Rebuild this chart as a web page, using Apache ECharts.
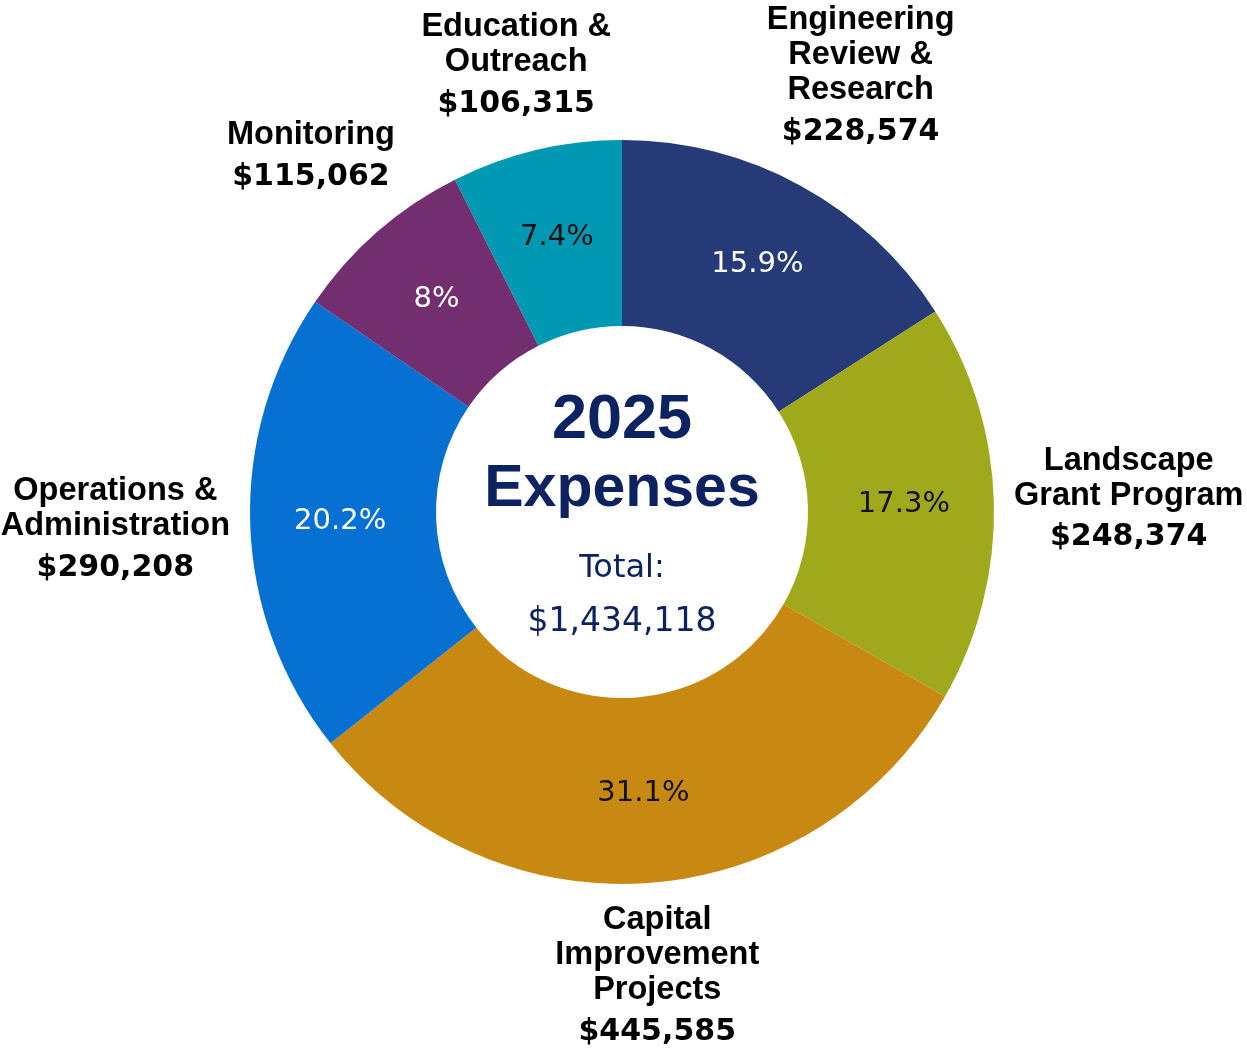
<!DOCTYPE html>
<html>
<head>
<meta charset="utf-8">
<script src="https://cdn.jsdelivr.net/npm/echarts@6/dist/echarts.min.js"></script>
<style>
html,body{margin:0;padding:0;background:#fff;}
#chart{width:1247px;height:1052px;}
</style>
</head>
<body>
<div id="chart"></div>
<script>
// ---- data ----
const categories = [
  'Engineering\nReview &\nResearch',
  'Landscape\nGrant Program',
  'Capital\nImprovement\nProjects',
  'Operations &\nAdministration',
  'Monitoring',
  'Education &\nOutreach'
];
const values = [228574, 248374, 445585, 290208, 115062, 106315];
const sliceColors = ['#253A77', '#A0A81C', '#C88913', '#0670D3', '#722E6E', '#0098B3'];
const pctLabelColors = ['#ffffff', '#111111', '#111111', '#ffffff', '#ffffff', '#111111'];
const centerTitle = ['2025', 'Expenses'];
const centerSub = ['Total:', '$1,434,118'];

// ---- layout ----
const CX = 622, CY = 512, R_OUT = 372, R_IN = 186, GAP = 20;
const total = values.reduce((a, b) => a + b, 0);
const midAngles = [];
{
  let acc = 0;
  values.forEach(v => { midAngles.push((acc + v / 2) / total * 2 * Math.PI); acc += v; });
}
function fmtMoney(v) { return '$' + v.toLocaleString('en-US'); }
function fmtPct(v) { return parseFloat((v / total * 100).toFixed(1)) + '%'; }

function boxDist(bx, by, hw, hh) {
  const dx = Math.max(Math.abs(bx) - hw, 0);
  const dy = Math.max(Math.abs(by) - hh, 0);
  return Math.sqrt(dx * dx + dy * dy);
}

const data = categories.map((n, i) => ({
  name: n, value: values[i],
  itemStyle: { color: sliceColors[i] },
  label: { color: pctLabelColors[i] }
}));
const outerData = categories.map((n, i) => ({ name: n, value: values[i] }));

const NAVY = '#0D2361';
const chart = echarts.init(document.getElementById('chart'), null, { renderer: 'canvas' });
chart.setOption({
  backgroundColor: '#ffffff',
  animation: false,
  series: [
    {
      type: 'pie',
      center: [CX, CY],
      radius: [R_IN, R_OUT],
      startAngle: 90,
      clockwise: true,
      avoidLabelOverlap: false,
      silent: true,
      itemStyle: { borderWidth: 0 },
      label: {
        show: true,
        position: 'inside',
        fontFamily: 'DejaVu Sans',
        fontSize: 29,
        formatter: p => fmtPct(p.value)
      },
      labelLine: { show: false },
      data: data
    },
    {
      type: 'pie',
      center: [CX, CY],
      radius: [R_IN, R_OUT],
      startAngle: 90,
      clockwise: true,
      avoidLabelOverlap: false,
      silent: true,
      z: 1,
      itemStyle: { color: 'rgba(0,0,0,0)', borderWidth: 0 },
      label: {
        show: true,
        position: 'outside',
        formatter: p => '{n|' + p.name.split('\n').join('}\n{n|') + '}\n{v|' + fmtMoney(p.value) + '}',
        rich: {
          n: { fontFamily: 'Liberation Sans', fontWeight: 'bold', fontSize: 32.5, lineHeight: 35, color: '#000', align: 'center' },
          v: { fontFamily: 'DejaVu Sans', fontWeight: 'bold', fontSize: 30, lineHeight: 42, padding: [7, 0, 0, 0], color: '#000', align: 'center' }
        }
      },
      labelLine: { show: false },
      labelLayout: function (params) {
        const th = midAngles[params.dataIndex];
        const s = Math.sin(th), c = Math.cos(th);
        const hw = params.labelRect.width / 2, hh = params.labelRect.height / 2;
        const target = R_OUT + GAP;
        let lo = 0, hi = 1500;
        for (let k = 0; k < 60; k++) {
          const mid = (lo + hi) / 2;
          if (boxDist(mid * s, -mid * c, hw, hh) < target) lo = mid; else hi = mid;
        }
        return { x: CX + lo * s, y: CY - lo * c, align: 'center', verticalAlign: 'middle' };
      },
      data: outerData
    }
  ],
  graphic: [
    { type: 'text', z: 10, x: CX, y: 421,
      style: { text: centerTitle[0], fontFamily: 'Liberation Sans', fontWeight: 'bold', fontSize: 63, fill: NAVY, textAlign: 'center', textVerticalAlign: 'middle' } },
    { type: 'text', z: 10, x: CX, y: 490,
      style: { text: centerTitle[1], fontFamily: 'Liberation Sans', fontWeight: 'bold', fontSize: 59, fill: NAVY, textAlign: 'center', textVerticalAlign: 'middle' } },
    { type: 'text', z: 10, x: CX, y: 569,
      style: { text: centerSub[0], fontFamily: 'DejaVu Sans', fontSize: 32, fill: NAVY, textAlign: 'center', textVerticalAlign: 'middle' } },
    { type: 'text', z: 10, x: CX, y: 622,
      style: { text: centerSub[1], fontFamily: 'DejaVu Sans', fontSize: 33, fill: NAVY, textAlign: 'center', textVerticalAlign: 'middle' } }
  ]
});
</script>
</body>
</html>
